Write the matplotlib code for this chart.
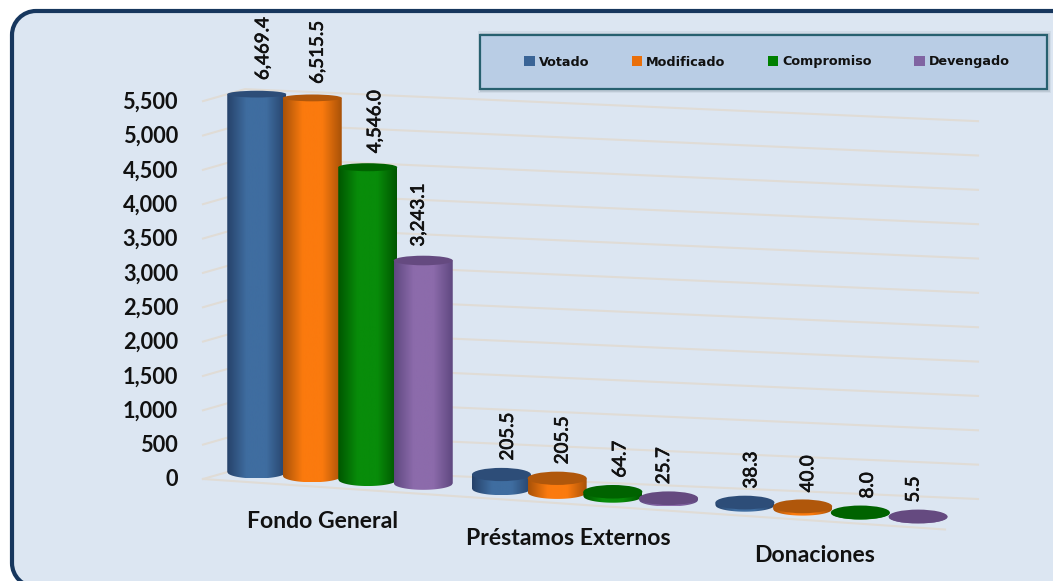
import numpy as np
import matplotlib
matplotlib.use("Agg")
import matplotlib.pyplot as plt
import matplotlib.patheffects as pe
from matplotlib.colors import LinearSegmentedColormap
from matplotlib.patches import Ellipse, Patch, PathPatch, Rectangle
from matplotlib.path import Path

categories = ["Fondo General", "Préstamos Externos", "Donaciones"]
series = ["Votado", "Modificado", "Compromiso", "Devengado"]
votado = [6469.4, 205.5, 38.3]
modificado = [6515.5, 205.5, 40.0]
compromiso = [4546.0, 64.7, 8.0]
devengado = [3243.1, 25.7, 5.5]
ticks = [0, 500, 1000, 1500, 2000, 2500, 3000, 3500, 4000, 4500, 5000, 5500]
axis_max = 5500

# edge, centre, top of each cylinder
colors = [("#26426a", "#3f6da0", "#2d4d78"),
          ("#a85208", "#fb7a0e", "#b0570b"),
          ("#005600", "#088c0a", "#006300"),
          ("#5f4880", "#8c6bab", "#654a80")]
legend_colors = ["#3a6496", "#ea6f0a", "#008000", "#8064a2"]

W, H = 1053, 581
SCALE = 0.0687     # pixels per unit of value
Y0 = 472           # pixel row of value 0 at the first bar
X0 = 257
SLOPE = 0.068      # floor falls to the right
group_x = [340, 585, 831.5]
bar_step = [55.5, 55.7, 57.7]
RX, RY = 29.5, 6.5
label_dx = [6, 5, 7, -5]
FRAME = "#17375e"
PANEL = "#dce6f2"

plt.rcParams["font.family"] = ["Lato", "DejaVu Sans"]

fig = plt.figure(figsize=(W / 100, H / 100), dpi=100)
ax = fig.add_axes([0, 0, 1, 1])
ax.set_xlim(0, W)
ax.set_ylim((Y0 - H) / SCALE, Y0 / SCALE)
ax.axis("off")
ax.set_autoscale_on(False)


def base(x):
    return -SLOPE * (x - X0) / SCALE


def row(y):
    return (Y0 - y) / SCALE


# rounded panel, runs off the right and the bottom of the picture
left, top_y, bot_y, r = 12, 11, 587, 24
c = r * 0.45
verts = [(W + 5, top_y), (left + r, top_y),
         (left + c, top_y), (left, top_y + c), (left, top_y + r),
         (left, bot_y - r),
         (left, bot_y - c), (left + c, bot_y), (left + r, bot_y),
         (W + 5, bot_y)]
codes = [Path.MOVETO, Path.LINETO, Path.CURVE4, Path.CURVE4, Path.CURVE4, Path.LINETO,
         Path.CURVE4, Path.CURVE4, Path.CURVE4, Path.LINETO]
frame = Path([(x, row(y)) for x, y in verts], codes)
ax.add_patch(PathPatch(frame, fc=PANEL, ec=FRAME, lw=3, zorder=0.5))

# gridlines
for v in ticks:
    ax.plot([203, 245, 978], [row(479) + v, row(467) + v, row(499) + v],
            color="#e0dcd6", lw=1.5, zorder=1)
    ax.text(178, row(480) + v, f"{v:,}", ha="right", va="center",
            fontsize=15.7, fontweight="bold", color="#111111")
ax.plot([203, 945], [row(479), row(529.5)], color="#e0dcd6", lw=1.5, zorder=1)

# cylinders
z = 2
for g, cat in enumerate(categories):
    vals = [votado[g], modificado[g], compromiso[g], devengado[g]]
    for s, val in enumerate(vals):
        x = group_x[g] + (s - 1.5) * bar_step[g]
        b = base(x)
        top = b + min(val, axis_max)
        edge, mid, cap = colors[s]
        cmap = LinearSegmentedColormap.from_list("c", [edge, mid, mid, edge], N=128)
        ry = RY / SCALE
        # the higher the top, the flatter it looks
        top_px = Y0 - top * SCALE
        top_ry = (3.4 + (top_px - 96) * 0.0085) / SCALE
        u = np.linspace(1, -1, 60)
        outline = [(x - RX, top), (x + RX, top)] + [(x + RX * k, b - ry * np.sqrt(1 - k * k)) for k in u]
        outline.append((x - RX, top))
        im = ax.imshow(np.linspace(0, 1, 128).reshape(1, -1), cmap=cmap, aspect="auto",
                       extent=(x - RX, x + RX, b - ry, top), zorder=z)
        im.set_clip_path(Path(outline), transform=ax.transData)
        ax.add_patch(Ellipse((x, top), 2 * RX, 2 * top_ry, fc=cap, ec="none", zorder=z + 0.5))
        lab = ax.annotate(f"{val:,.1f}", (x, top), xytext=(label_dx[s] * 0.72, 14 * 0.72),
                          textcoords="offset points", rotation=90, ha="center", va="bottom",
                          fontsize=13.5, color="#111111", zorder=30)
        lab.set_path_effects([pe.withStroke(linewidth=0.5, foreground="#111111")])
        z += 1
    ax.annotate(cat, (group_x[g], base(group_x[g])), xytext=(-17 * 0.72, -44 * 0.72),
                textcoords="offset points", ha="center", va="center",
                fontsize=16.6, fontweight="bold", color="#111111", zorder=30)

# legend box
for off, alpha in [(4, 0.06), (2.5, 0.1), (1.2, 0.14)]:
    ax.add_patch(Rectangle((480 - off + 2, row(89 + off)), 567 + 2 * off - 2, row(35 - off) - row(89 + off),
                           fc="#1f3040", alpha=alpha, ec="none", zorder=40))
ax.add_patch(Rectangle((480, row(89)), 567, row(35) - row(89), fc="#b9cde5",
                       ec="#27606f", lw=1.6, zorder=41))
handles = [Patch(fc=c, ec="none", label=n) for c, n in zip(legend_colors, series)]
leg = ax.legend(handles=handles, ncol=4, frameon=False, loc="center",
                bbox_to_anchor=(767, row(62)), bbox_transform=ax.transData,
                prop={"family": "DejaVu Sans", "weight": "bold", "size": 9.2},
                handlelength=0.8, handleheight=0.8, handletextpad=0.3, columnspacing=3.35)
leg.set_zorder(42)
for text in leg.get_texts():
    text.set_color("#111111")

fig.savefig("out.png", dpi=100)
